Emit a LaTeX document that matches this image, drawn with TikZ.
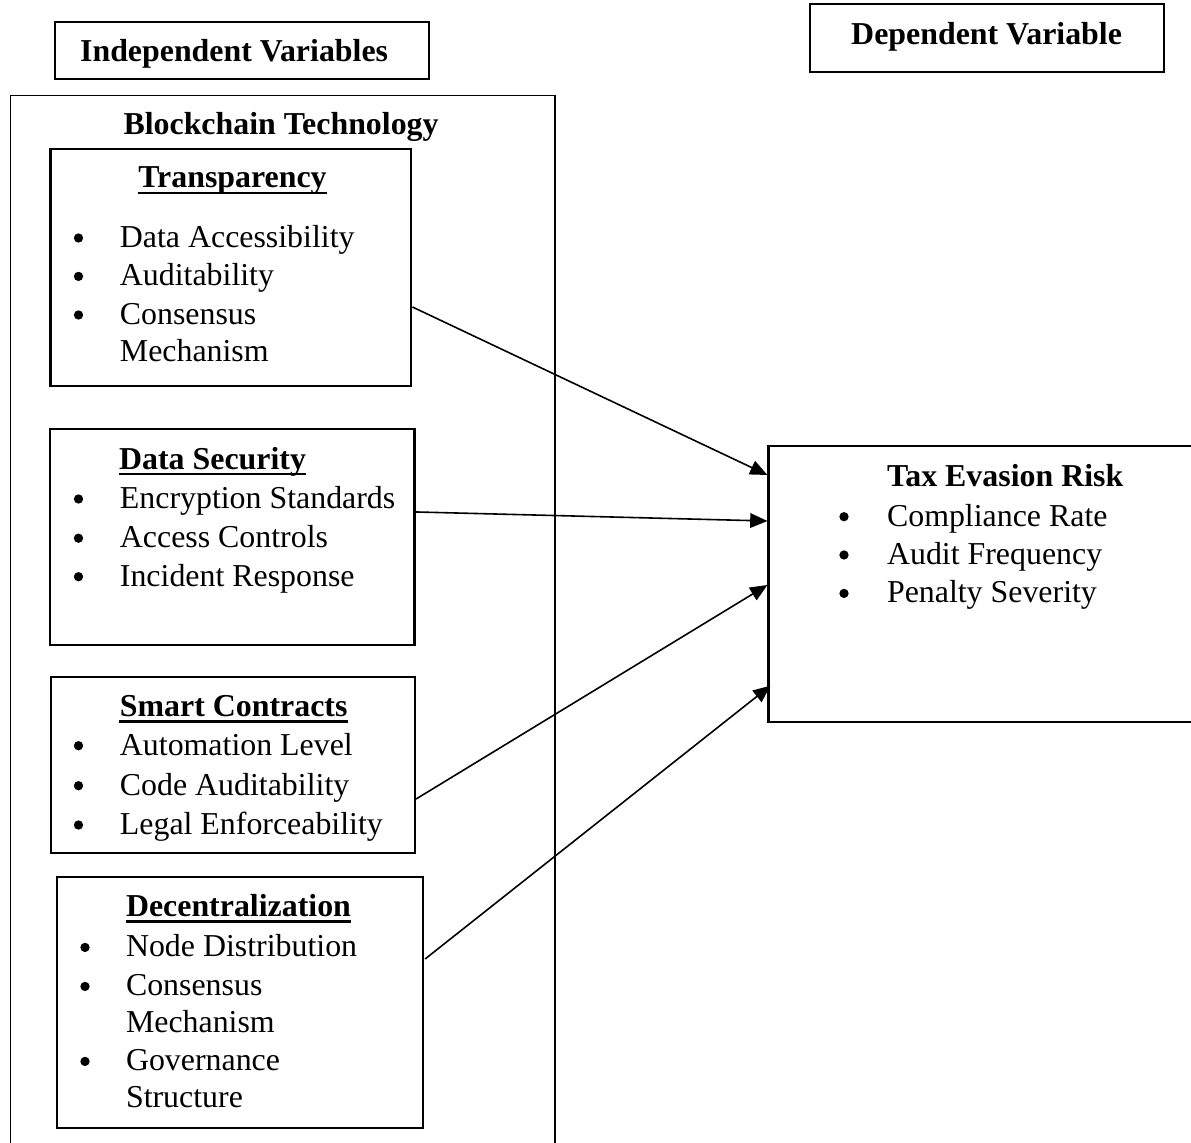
\documentclass[tikz,border=0pt]{standalone}
\usepackage{fontspec}
\setmainfont{Liberation Serif}
\usetikzlibrary{arrows.meta,fit,calc}
\begin{document}
\begin{tikzpicture}[x=0.3764pt,y=-0.3764pt,
  box/.style={draw, line width=0.8pt, inner sep=0pt, rectangle},
  outerbox/.style={draw, line width=0.6pt, inner sep=0pt, rectangle},
  txt/.style={inner sep=0pt, anchor=base west, font=\fontsize{12}{14}\selectfont},
  hd/.style={inner sep=0pt, anchor=base west, font=\fontsize{12}{14}\selectfont\bfseries},
  bul/.style={circle, fill, inner sep=0pt, minimum size=3.5pt, yshift=3.5pt},
  conn/.style={line width=0.6pt, -{Triangle[length=6.5pt,width=5.5pt]}},
  uline/.style={line width=0.9pt}]
\fill[white] (0,0) rectangle (1191,1143);
\useasboundingbox (0,0) rectangle (1191,1143);
\clip (0,0) rectangle (1191,1143);

% header boxes
\node[box, fit={(54.7,21.7) (429,79.3)}] (indep) {};
\node[hd] (indeptxt) at (79.6,61.7) {Independent Variables};
\node[box, fit={(810,4) (1164,71.7)}] (dep) {};
\node[hd] (deptxt) at (850.7,45) {Dependent Variable};

% outer blockchain box
\node[outerbox, fit={(10.7,95.7) (555,1150)}] (block) {};
\node[hd] (blocktxt) at (123,135) {Blockchain Technology};

% Transparency
\node[box, fit={(50.5,149) (411.4,386)}] (trans) {};
\node[hd] (transt) at (137.8,188) {Transparency};
\draw[uline] ([yshift=-1.8pt]transt.base west) -- ([yshift=-1.8pt]transt.base east);
\node[bul] (tb1) at (78.5,247.3) {};
\node[txt] (ti1) at (119.4,247.3) {Data Accessibility};
\node[bul] (tb2) at (78.5,285.7) {};
\node[txt] (ti2) at (119.4,285.7) {Auditability};
\node[bul] (tb3) at (78.5,324.3) {};
\node[txt] (ti3) at (119.4,324.3) {Consensus};
\node[txt] (ti4) at (119.4,361.7) {Mechanism};

% Data Security
\node[box, fit={(49.8,429) (414.5,645.3)}] (dsec) {};
\node[hd] (dsect) at (118.6,469.5) {Data Security};
\draw[uline] ([yshift=-1.8pt]dsect.base west) -- ([yshift=-1.8pt]dsect.base east);
\node[bul] (db1) at (78.5,508.3) {};
\node[txt] (di1) at (119.4,508.3) {Encryption Standards};
\node[bul] (db2) at (78.5,547.5) {};
\node[txt] (di2) at (119.4,547.5) {Access Controls};
\node[bul] (db3) at (78.5,586) {};
\node[txt] (di3) at (119.4,586) {Incident Response};

% Smart Contracts
\node[box, fit={(51,676.7) (415,852.7)}] (smart) {};
\node[hd] (smartt) at (119.4,716.7) {Smart Contracts};
\draw[uline] ([yshift=-1.8pt]smartt.base west) -- ([yshift=-1.8pt]smartt.base east);
\node[bul] (sb1) at (78.5,755) {};
\node[txt] (si1) at (119.4,755) {Automation Level};
\node[bul] (sb2) at (78.5,795) {};
\node[txt] (si2) at (119.4,795) {Code Auditability};
\node[bul] (sb3) at (78.5,834.3) {};
\node[txt] (si3) at (119.4,834.3) {Legal Enforceability};

% Decentralization
\node[box, fit={(56.6,877) (423,1128)}] (dec) {};
\node[hd] (dect) at (125.5,916.7) {Decentralization};
\draw[uline] ([yshift=-1.8pt]dect.base west) -- ([yshift=-1.8pt]dect.base east);
\node[bul] (eb1) at (85,956.7) {};
\node[txt] (ei1) at (125.5,956.7) {Node Distribution};
\node[bul] (eb2) at (85,995.7) {};
\node[txt] (ei2) at (125.5,995.7) {Consensus};
\node[txt] (ei3) at (125.5,1032.3) {Mechanism};
\node[bul] (eb3) at (85,1070.7) {};
\node[txt] (ei4) at (125.5,1070.7) {Governance};
\node[txt] (ei5) at (125.5,1107.7) {Structure};

% Tax Evasion Risk
\node[box, fit={(768.5,446) (1210,722)}] (tax) {};
\node[hd] (taxt) at (886.5,486.7) {Tax Evasion Risk};
\node[bul] (xb1) at (844,526) {};
\node[txt] (xi1) at (886.5,526) {Compliance Rate};
\node[bul] (xb2) at (844,564.3) {};
\node[txt] (xi2) at (886.5,564.3) {Audit Frequency};
\node[bul] (xb3) at (844,602.7) {};
\node[txt] (xi3) at (886.5,602.7) {Penalty Severity};

% connector end points
\coordinate (s1) at ($(trans.east)+(0,39.5)$);
\coordinate (s2) at ($(dsec.east)+(0,-25.2)$);
\coordinate (s3) at ($(smart.east)+(0,34.3)$);
\coordinate (s4) at ($(dec.east)+(1,-43.5)$);
\coordinate (e1) at ($(tax.west)+(0,-109)$);
\coordinate (e2) at ($(tax.west)+(0,-63)$);
\coordinate (e3) at ($(tax.west)+(0,1)$);
\coordinate (e4) at ($(tax.west)+(3,101.7)$);

\draw[conn] (s1) -- (e1);
\draw[conn] (s2) -- (e2);
\draw[conn] (s3) -- (e3);
\draw[conn] (s4) -- (e4);
\end{tikzpicture}
\end{document}
